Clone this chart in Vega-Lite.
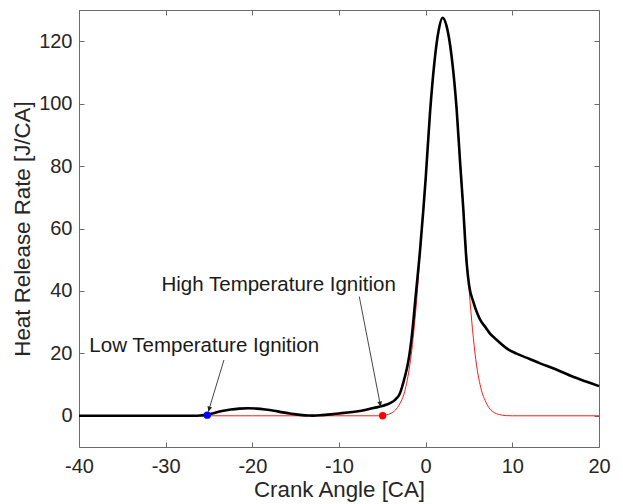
{
  "$schema": "https://vega.github.io/schema/vega-lite/v6.json",
  "width": 520,
  "height": 437,
  "autosize": "none",
  "padding": {"left": 79, "top": 10, "right": 24, "bottom": 57},
  "background": "white",
  "config": {
    "font": "Liberation Sans",
    "view": {"stroke": "#6b6b6b", "strokeWidth": 1},
    "axis": {
      "grid": false,
      "domain": false,
      "tickColor": "#6b6b6b",
      "tickWidth": 1,
      "labelColor": "#262626",
      "titleColor": "#262626",
      "labelFont": "Liberation Sans",
      "titleFont": "Liberation Sans",
      "labelFontSize": 20,
      "titleFontSize": 22.3,
      "titleFontWeight": "normal",
      "labelFlush": false
    }
  },
  "datasets": {
    "measured": [
      {"x": -40, "y": 0}, {"x": -35, "y": 0}, {"x": -30, "y": 0}, {"x": -27, "y": 0.02},
      {"x": -26, "y": 0.1}, {"x": -25.2, "y": 0.3}, {"x": -24.5, "y": 0.8}, {"x": -23.5, "y": 1.5},
      {"x": -22.5, "y": 2.0}, {"x": -21.5, "y": 2.3}, {"x": -20.5, "y": 2.4}, {"x": -19.5, "y": 2.3},
      {"x": -18.5, "y": 2.0}, {"x": -17.5, "y": 1.6}, {"x": -16.5, "y": 1.1}, {"x": -15.5, "y": 0.65},
      {"x": -14.5, "y": 0.3}, {"x": -13.5, "y": 0.08}, {"x": -13, "y": 0.05}, {"x": -12, "y": 0.2},
      {"x": -11, "y": 0.45}, {"x": -10, "y": 0.75}, {"x": -9, "y": 1.05}, {"x": -8, "y": 1.4},
      {"x": -7, "y": 1.85}, {"x": -6, "y": 2.5}, {"x": -5, "y": 3.1}, {"x": -4.5, "y": 3.6},
      {"x": -4, "y": 4.2}, {"x": -3.5, "y": 5.2}, {"x": -3, "y": 7.0}, {"x": -2.4, "y": 12.5},
      {"x": -2.1, "y": 16}, {"x": -1.8, "y": 21}, {"x": -1.5, "y": 28}, {"x": -1.2, "y": 37},
      {"x": -0.65, "y": 53}, {"x": -0.27, "y": 66}, {"x": 0, "y": 76}, {"x": 0.5, "y": 97},
      {"x": 1.0, "y": 113}, {"x": 1.5, "y": 123.5}, {"x": 1.95, "y": 127.5}, {"x": 2.4, "y": 125},
      {"x": 3.0, "y": 115}, {"x": 3.58, "y": 98}, {"x": 4.0, "y": 80}, {"x": 4.3, "y": 68},
      {"x": 4.73, "y": 49}, {"x": 5.0, "y": 42}, {"x": 5.5, "y": 36.5}, {"x": 6.0, "y": 32.5},
      {"x": 6.3, "y": 30.7}, {"x": 7.0, "y": 28}, {"x": 7.4, "y": 26.4}, {"x": 8.0, "y": 24.8},
      {"x": 9.35, "y": 21.6}, {"x": 10.5, "y": 19.9}, {"x": 12, "y": 18.2}, {"x": 13.2, "y": 16.8},
      {"x": 15, "y": 14.9}, {"x": 17, "y": 12.5}, {"x": 18.5, "y": 11}, {"x": 20, "y": 9.5}
    ],
    "model": [
      {"x": -40, "y": 0}, {"x": -20, "y": 0}, {"x": -10, "y": 0}, {"x": -5, "y": 0},
      {"x": -4.5, "y": 0.3}, {"x": -4, "y": 0.8}, {"x": -3.5, "y": 1.8}, {"x": -3, "y": 3.8},
      {"x": -2.5, "y": 7}, {"x": -2.2, "y": 10.4}, {"x": -1.9, "y": 15}, {"x": -1.6, "y": 21},
      {"x": -1.3, "y": 29}, {"x": -1.04, "y": 37}, {"x": -0.65, "y": 52}, {"x": -0.27, "y": 66},
      {"x": 0, "y": 76}, {"x": 0.5, "y": 97}, {"x": 1.0, "y": 113}, {"x": 1.5, "y": 123.5},
      {"x": 1.95, "y": 127.5}, {"x": 2.4, "y": 125}, {"x": 3.0, "y": 115}, {"x": 3.58, "y": 98},
      {"x": 4.0, "y": 81}, {"x": 4.42, "y": 64}, {"x": 4.73, "y": 51}, {"x": 5.11, "y": 37},
      {"x": 5.5, "y": 25}, {"x": 5.88, "y": 16}, {"x": 6.2, "y": 11}, {"x": 6.5, "y": 7.5},
      {"x": 6.85, "y": 5}, {"x": 7.3, "y": 2.6}, {"x": 7.8, "y": 1.2}, {"x": 8.5, "y": 0.4},
      {"x": 9.3, "y": 0.05}, {"x": 10, "y": 0}, {"x": 20, "y": 0}
    ],
    "markers": [
      {"event": "Low Temperature Ignition", "x": -25.2, "y": 0.2},
      {"event": "High Temperature Ignition", "x": -4.96, "y": 0}
    ],
    "labels": [
      {"text": "Low Temperature Ignition", "x": -25.55, "y": 22.4},
      {"text": "High Temperature Ignition", "x": -16.96, "y": 41.9}
    ],
    "arrows": [
      {"event": "low", "x": -23.27, "y": 17.9, "x2": -25.08, "y2": 1.3},
      {"event": "high", "x": -7.66, "y": 38.2, "x2": -5.19, "y2": 2.9}
    ]
  },
  "resolve": {"axis": {"x": "independent", "y": "independent"}},
  "layer": [
    {
      "data": {"name": "model"},
      "mark": {"type": "point", "opacity": 0},
      "encoding": {
        "x": {"field": "x", "type": "quantitative", "scale": {"domain": [-40, 20], "nice": false, "zero": false},
              "axis": {"orient": "top", "labels": false, "title": null, "values": [-40, -30, -20, -10, 0, 10, 20], "offset": -5, "tickSize": 5}},
        "y": {"field": "y", "type": "quantitative", "scale": {"domain": [-10, 130], "nice": false, "zero": false},
              "axis": {"orient": "right", "labels": false, "title": null, "values": [0, 20, 40, 60, 80, 100, 120], "offset": -5, "tickSize": 5}}
      }
    },
    {
      "data": {"name": "model"},
      "mark": {"type": "line", "color": "#ff1a1a", "strokeWidth": 1, "interpolate": "monotone"},
      "encoding": {
        "x": {"field": "x", "type": "quantitative",
              "axis": {"orient": "bottom", "title": "Crank Angle [CA]", "values": [-40, -30, -20, -10, 0, 10, 20], "ticks": false, "labelPadding": 9, "titlePadding": 2, "labelExpr": "replace(datum.label, '−', '-')"}},
        "y": {"field": "y", "type": "quantitative",
              "axis": {"orient": "left", "title": "Heat Release Rate [J/CA]", "values": [0, 20, 40, 60, 80, 100, 120], "ticks": false, "labelPadding": 7, "titlePadding": 4}}
      }
    },
    {
      "data": {"name": "measured"},
      "mark": {"type": "line", "color": "#000000", "strokeWidth": 2.6, "interpolate": "monotone"},
      "encoding": {
        "x": {"field": "x", "type": "quantitative",
              "axis": {"orient": "bottom", "labels": false, "title": null, "values": [-40, -30, -20, -10, 0, 10, 20], "offset": -5, "tickSize": 5}},
        "y": {"field": "y", "type": "quantitative",
              "axis": {"orient": "left", "labels": false, "title": null, "values": [0, 20, 40, 60, 80, 100, 120], "offset": -5, "tickSize": 5}}
      }
    },
    {
      "data": {"name": "markers"},
      "mark": {"type": "point", "filled": true, "size": 55, "opacity": 1},
      "encoding": {
        "x": {"field": "x", "type": "quantitative", "axis": null},
        "y": {"field": "y", "type": "quantitative", "axis": null},
        "color": {"field": "event", "type": "nominal", "legend": null,
                  "scale": {"domain": ["Low Temperature Ignition", "High Temperature Ignition"], "range": ["#0000ff", "#ff0000"]}}
      }
    },
    {
      "data": {"name": "arrows"},
      "mark": {"type": "rule", "color": "#333333", "strokeWidth": 0.9},
      "encoding": {
        "x": {"field": "x", "type": "quantitative", "axis": null},
        "y": {"field": "y", "type": "quantitative", "axis": null},
        "x2": {"field": "x2"},
        "y2": {"field": "y2"}
      }
    },
    {
      "data": {"name": "arrows"},
      "transform": [{"filter": "datum.event == 'low'"}],
      "mark": {"type": "point", "shape": "M0,0 L-0.45,-1 L0.45,-1 Z", "filled": true, "color": "#222222", "size": 110, "opacity": 1, "angle": 17},
      "encoding": {
        "x": {"field": "x2", "type": "quantitative", "axis": null},
        "y": {"field": "y2", "type": "quantitative", "axis": null}
      }
    },
    {
      "data": {"name": "arrows"},
      "transform": [{"filter": "datum.event == 'high'"}],
      "mark": {"type": "point", "shape": "M0,0 L-0.45,-1 L0.45,-1 Z", "filled": true, "color": "#222222", "size": 110, "opacity": 1, "angle": -11},
      "encoding": {
        "x": {"field": "x2", "type": "quantitative", "axis": null},
        "y": {"field": "y2", "type": "quantitative", "axis": null}
      }
    },
    {
      "data": {"name": "labels"},
      "mark": {"type": "text", "fontSize": 20.5, "color": "#1a1a1a", "align": "center", "baseline": "middle"},
      "encoding": {
        "x": {"field": "x", "type": "quantitative", "axis": null},
        "y": {"field": "y", "type": "quantitative", "axis": null},
        "text": {"field": "text"}
      }
    }
  ]
}
